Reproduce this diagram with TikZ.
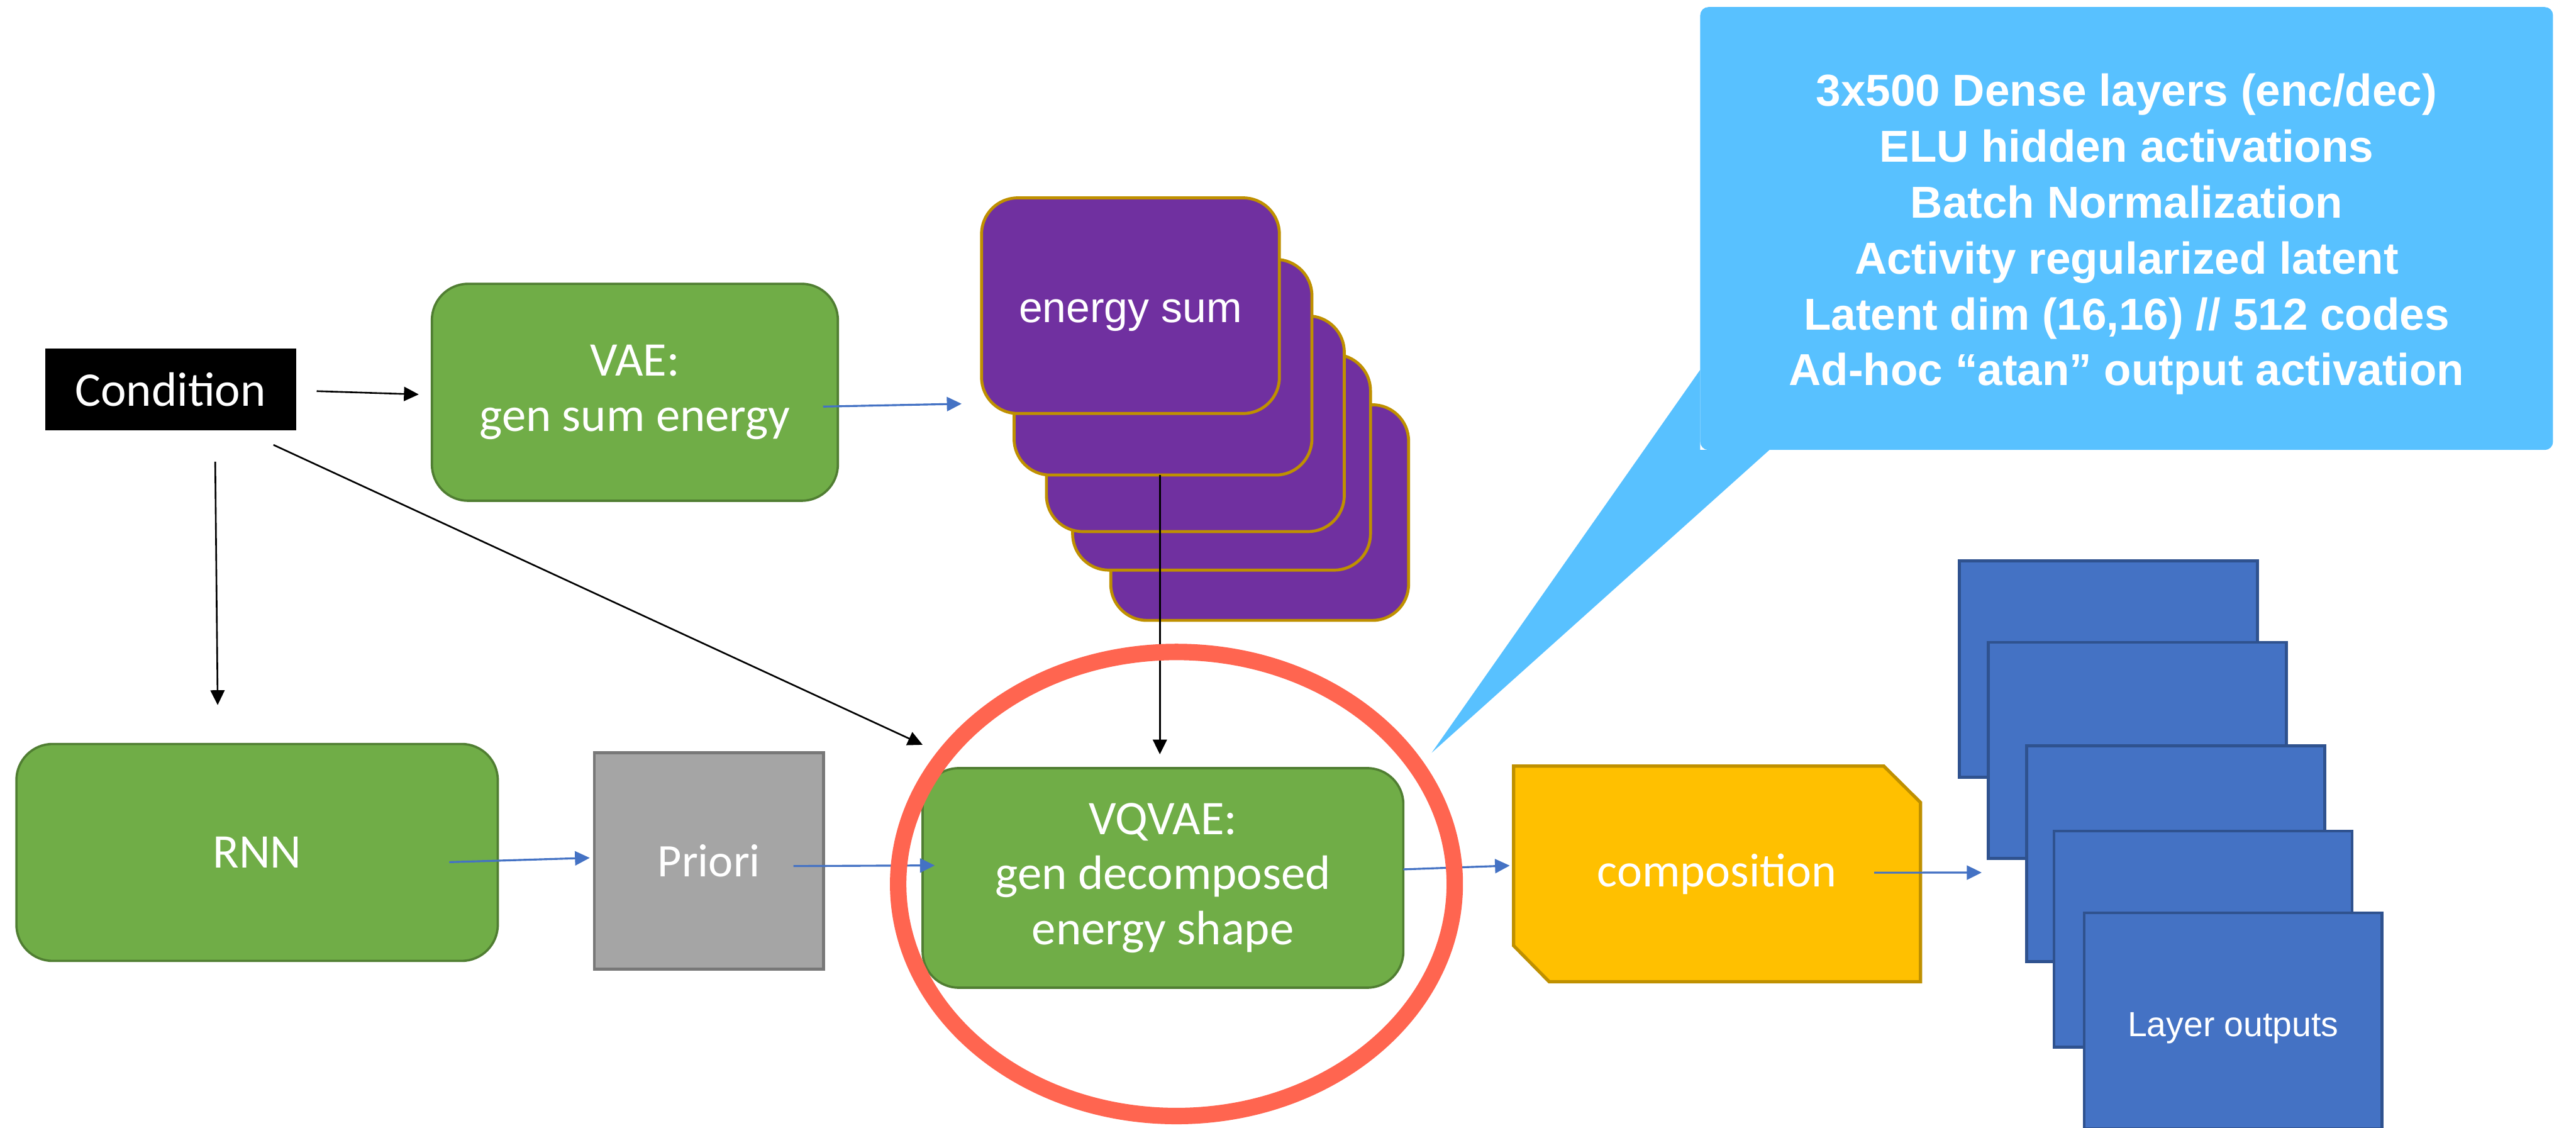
\documentclass[tikz,border=0pt]{standalone}
\usepackage{fontspec}
\setmainfont{Carlito}
\newfontfamily\helv{Liberation Sans}
\usetikzlibrary{arrows.meta,calc,backgrounds}
\definecolor{grn}{RGB}{112,173,71}
\definecolor{grnb}{RGB}{80,126,50}
\definecolor{purp}{RGB}{112,48,160}
\definecolor{gold}{RGB}{191,144,0}
\definecolor{gry}{RGB}{165,165,165}
\definecolor{gryb}{RGB}{120,120,120}
\definecolor{yel}{RGB}{255,192,0}
\definecolor{lblue}{RGB}{68,114,196}
\definecolor{lblueb}{RGB}{47,82,143}
\definecolor{callc}{RGB}{88,193,255}
\definecolor{redc}{RGB}{255,101,80}
\begin{document}
\begin{tikzpicture}[x=0.5pt,y=-0.5pt,
  lbl/.style={inner sep=0pt, outer sep=0pt, text=white, align=center, font=\fontsize{14.7}{16.7}\selectfont},
  greenbox/.style={lbl, fill=grn, draw=grnb, line width=0.7pt, rounded corners=11pt},
  ebox/.style={inner sep=0pt, outer sep=0pt, fill=purp, draw=gold, line width=0.9pt, rounded corners=11pt, minimum width=90.65pt, minimum height=65.6pt, text=white, font=\helv\fontsize{13}{15}\selectfont},
  lbox/.style={inner sep=0pt, outer sep=0pt, fill=lblue, draw=lblueb, line width=0.9pt, minimum width=90.7pt, minimum height=65.75pt, text=white, font=\helv\fontsize{10.6}{12}\selectfont},
  blk/.style={draw=black, line width=0.5pt, -{Triangle[length=4.5pt,width=4.3pt]}},
  blu/.style={draw=lblue, line width=0.6pt, -{Triangle[length=4.5pt,width=4.3pt]}},
]
\useasboundingbox (0,0) rectangle (1568,686);
\begin{scope}[on background layer]
\fill[white] (0,0) rectangle (1568,686);
\end{scope}
\clip (0,0) rectangle (1568,686);

% callout
\node[fill=callc, rounded corners=2.5pt, minimum width=259.55pt, minimum height=134.75pt, inner sep=0pt, outer sep=0pt, text=white, align=center, font=\helv\bfseries\fontsize{13.6}{17}\selectfont] (callout) at (1294.45,139.05)
{\rule{0pt}{13.4pt}3x500 Dense layers (enc/dec)\\ELU hidden activations\\Batch Normalization\\Activity regularized latent\\Latent dim (16,16) // 512 codes\\Ad-hoc “atan” output activation};
\coordinate (tip) at (871.5,458);
\fill[callc] ($(callout.south west)+(0,-48.8)$) -- (tip) -- ($(callout.south west)+(42.1,0)$) -- (callout.south west) -- cycle;

% condition
\node[lbl, fill=black, minimum width=76.35pt, minimum height=24.9pt] (cond) at (103.8,237) {Condition};
% VAE
\node[greenbox, minimum width=123.55pt, minimum height=66pt] (vae) at (386.45,238.7) {VAE:\\gen sum energy};
% energy stack (back to front)
\node[ebox] (e5) at (766.75,311.9) {};
\node[ebox] (e4) at (743.55,281.3) {};
\node[ebox] (e3) at (727.6,257.85) {};
\node[ebox] (e2) at (707.9,223.45) {};
\node[ebox, text height=10pt, text depth=0pt] (e1) at (688.1,186) {energy sum};
% RNN
\node[greenbox, minimum width=146.5pt, minimum height=66pt] (rnn) at (156.5,518.7) {RNN};
% Priori
\node[lbl, fill=gry, draw=gryb, line width=0.9pt, minimum width=69.75pt, minimum height=65.8pt, font=\fontsize{14.2}{16}\selectfont] (priori) at (431.55,523.8) {Priori};
% VQVAE
\node[greenbox, minimum width=146.3pt, minimum height=66.8pt] (vq) at (707.9,534.2) {VQVAE:\\gen decomposed\\energy shape};
% composition
\node[lbl, minimum width=123.85pt, minimum height=65.6pt, font=\fontsize{14.5}{16}\selectfont] (comp) at (1045.15,531.8) {composition};
\begin{scope}[on background layer]
\draw[fill=yel, draw=gold, line width=1pt] (comp.north west) -- ($(comp.north east)+(-22.3,0)$) -- ($(comp.north east)+(0,22.1)$) -- (comp.south east) -- ($(comp.south west)+(21.7,0)$) -- ($(comp.south west)+(0,-22)$) -- cycle;
\end{scope}
% layer outputs (back to front)
\node[lbox] (l1) at (1283.3,407.1) {};
\node[lbox] (l2) at (1301,456.6) {};
\node[lbox] (l3) at (1324.35,519.45) {};
\node[lbox] (l4) at (1340.95,571.4) {};
\node[lbox, text height=9.5pt, text depth=0pt] (l5) at (1359.3,621.25) {Layer outputs};

% connectors
\draw[blk] ($(cond.east)+(12.6,1)$) -- ($(vae.west)+(-8,1.3)$);
\draw[blu] ($(vae.east)+(-9,8.7)$) -- ($(e1.west)+(-12.1,59.7)$);
\draw[blk] ($(cond.south)+(27.2,19)$) -- ($(rnn.north)+(-24,-23.7)$);
\draw[blk] ($(cond.south east)+(-13.7,8.8)$) -- ($(vq.north west)+(0,-14.2)$);
\draw[blk] ($(e2.south)+(-1.9,0)$) -- ($(vq.north)+(-1.9,-8.4)$);
\draw[blu] ($(rnn.east)+(-29.5,5.9)$) -- ($(priori.west)+(-2.8,-1.8)$);
\draw[blu] ($(priori.east)+(-18.3,3.2)$) -- ($(vq.west)+(7.4,-7.6)$);
\draw[blu] ($(vq.east)+(0,-5.2)$) -- ($(comp.west)+(-2.3,-5.1)$);
\draw[blu] ($(comp.east)+(-28.2,-0.8)$) -- ($(l2.south west)+(-4.1,8.6)$);

% red ring
\draw[redc, line width=5pt] (716.1,537.9) ellipse [x radius=169.4, y radius=141.2];
\end{tikzpicture}
\end{document}
